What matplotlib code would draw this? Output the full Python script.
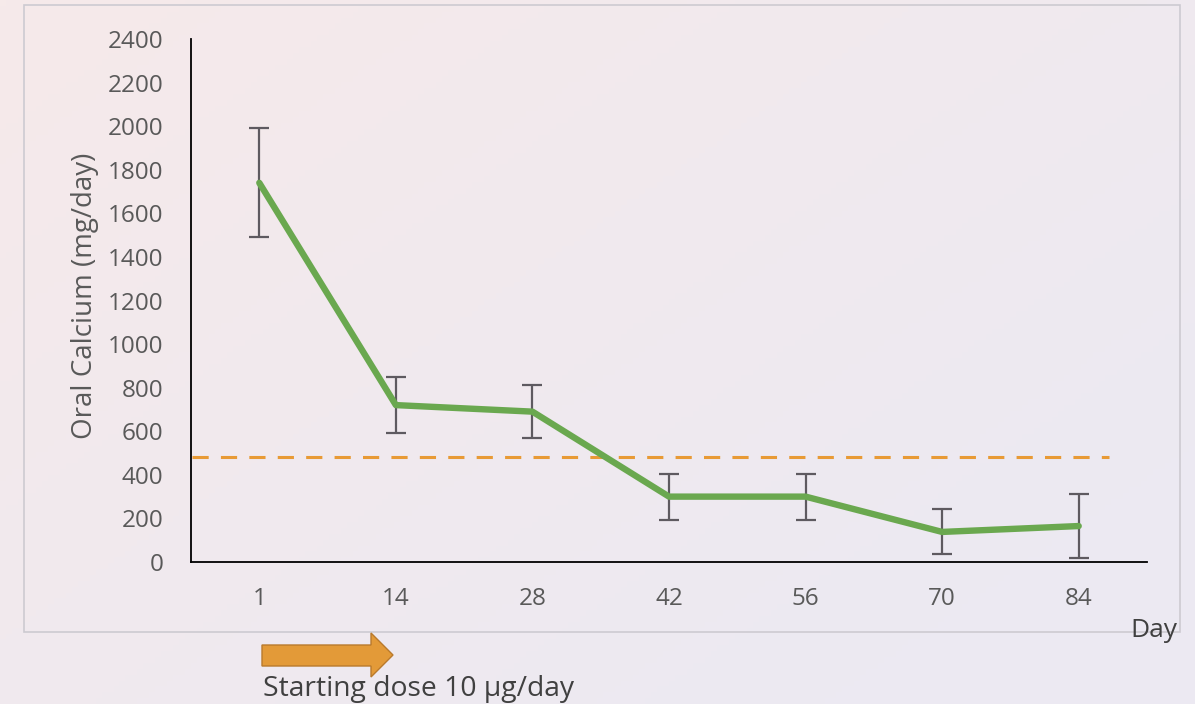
"""
Oral calcium requirement over time, with starting-dose arrow
"""

import numpy as np
import matplotlib
matplotlib.use('Agg')
import matplotlib.pyplot as plt
from matplotlib.patches import Rectangle, Polygon

plt.rcParams['font.family'] = ['Open Sans', 'DejaVu Sans']

# data
days = ['1', '14', '28', '42', '56', '70', '84']
calcium = [1740, 720, 690, 300, 300, 138, 165]
calcium_err = [250, 128, 120, 105, 105, 103, 145]
threshold = 480
y_ticks = list(range(0, 2401, 200))

W, H = 1195, 704
fig = plt.figure(figsize=(W / 100, H / 100), dpi=100)

# soft pink -> lavender background
bg = fig.add_axes([0, 0, 1, 1], zorder=-10)
gx, gy = np.meshgrid(np.linspace(0, 1, 200), np.linspace(0, 1, 120))
t = np.clip(0.65 * gx + 0.55 * gy, 0, 1)
pink = np.array([246, 234, 234]) / 255
lav = np.array([236, 233, 242]) / 255
img = pink[None, None, :] * (1 - t[..., None]) + lav[None, None, :] * t[..., None]
bg.imshow(img, aspect='auto', extent=[0, 1, 0, 1], origin='upper')
bg.axis('off')

def px(x, y):
    return (x / W, 1 - y / H)

# chart frame
fig.patches.append(Rectangle(px(24, 632), (1180 - 24) / W, (632 - 5) / H,
                             transform=fig.transFigure, fill=False,
                             edgecolor='#CDCAD1', linewidth=1.2, zorder=0))

ax = fig.add_axes([191 / W, 1 - 562 / H, (1147 - 191) / W, (562 - 39) / H])
ax.patch.set_alpha(0)

x = np.arange(len(days))
ax.errorbar(x, calcium, yerr=calcium_err, fmt='none', ecolor='#5E5A60',
            elinewidth=1.6, capsize=7, capthick=1.6, zorder=2)
ax.plot(x, calcium, color='#6AA84F', linewidth=4.6, solid_capstyle='round',
        solid_joinstyle='round', zorder=3)
ax.plot([-0.49, 6.22], [threshold, threshold], color='#E89A35', linewidth=2.2,
        dashes=(5.3, 4), zorder=1)

ax.set_xlim(-0.5, 6.5)
ax.set_ylim(0, 2400)
ax.set_xticks(x)
ax.set_xticklabels(days)
ax.set_yticks(y_ticks)
ax.tick_params(length=0, labelsize=17.5, labelcolor='#595959')
ax.tick_params(axis='y', pad=20)
ax.tick_params(axis='x', pad=18)
for s in ['top', 'right']:
    ax.spines[s].set_visible(False)
for s in ['left', 'bottom']:
    ax.spines[s].set_color('black')
    ax.spines[s].set_linewidth(1.3)

fig.text(85 / W, 1 - 296 / H, 'Oral Calcium (mg/day)', fontsize=20,
         color='#595959', rotation=90, ha='center', va='center')

fig.text(1130 / W, 1 - 637 / H, 'Day', fontsize=19, color='#404040',
         ha='left', va='baseline')

# starting-dose arrow
arrow_pts = [(262, 645), (371, 645), (371, 633), (393, 655),
             (371, 677), (371, 666), (262, 666)]
fig.patches.append(Polygon([px(a, b) for a, b in arrow_pts], closed=True,
                           transform=fig.transFigure, facecolor='#E39A38',
                           edgecolor='#B97A2C', linewidth=1.0, zorder=5))
fig.text(263 / W, 1 - 696 / H, 'Starting dose 10 µg/day', fontsize=20.3,
         color='#404040', ha='left', va='baseline')

plt.savefig('out.png', dpi=100)
